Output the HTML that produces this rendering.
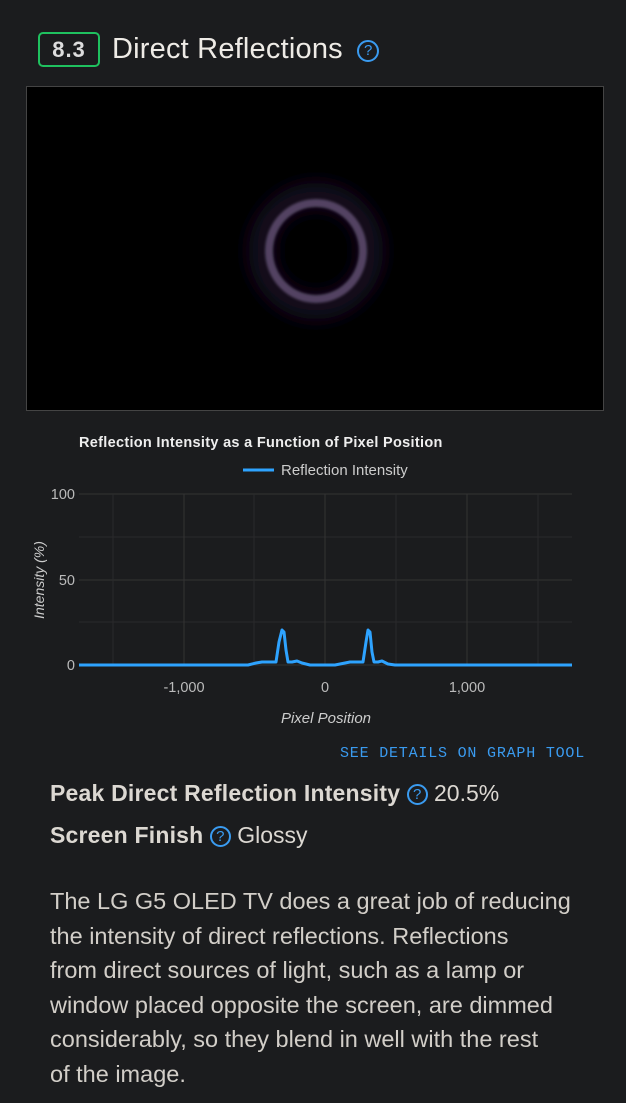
<!DOCTYPE html>
<html><head><meta charset="utf-8"><style>
*{margin:0;padding:0;box-sizing:border-box}
body{width:626px;height:1103px;background:#1b1c1e;font-family:"Liberation Sans",sans-serif;color:#e0ddd8;position:relative;overflow:hidden}
.abs{position:absolute}
.score{left:38px;top:32px;width:62px;height:35px;border:2px solid #1fc15f;border-radius:5px;font-weight:bold;font-size:22px;text-align:center;line-height:31px;color:#ddd;letter-spacing:1px}
.title{left:112px;top:31px;font-size:29px;color:#eeebe6;line-height:36px;letter-spacing:0.2px;white-space:nowrap}
.q{display:inline-block;border:2px solid #3a9bf0;border-radius:50%;color:#3a9bf0;text-align:center;font-weight:normal;letter-spacing:0}
.img{left:26px;top:86px;width:578px;height:325px;background:#000;border:1px solid #444}
.lbl{font-size:23px;line-height:30px;color:#dcd8d2;white-space:nowrap}
.para{left:50px;top:884px;width:580px;font-size:23.5px;line-height:34.5px;color:#d2cec8;white-space:nowrap}
</style></head><body>
<div class="abs score">8.3</div>
<div class="abs title">Direct Reflections <span class="q" style="width:22px;height:22px;font-size:15px;line-height:18px;vertical-align:3px;margin-left:6px">?</span></div>
<div class="abs img">
<svg width="576" height="323"><defs><filter id="b"><feGaussianBlur stdDeviation="1.2"/></filter><filter id="g" x="-100%" y="-100%" width="300%" height="300%"><feGaussianBlur stdDeviation="10"/></filter></defs>
<ellipse cx="289" cy="164" rx="55" ry="56" fill="none" stroke="#150f22" stroke-width="24" filter="url(#g)"/>
<ellipse cx="289" cy="164" rx="47" ry="48" fill="none" stroke="#524262" stroke-width="8" filter="url(#b)"/>
</svg></div>
<svg class="abs" style="left:0;top:420px" width="626" height="320">
<text x="79" y="27" font-size="14.5" font-weight="bold" fill="#eee" letter-spacing="0.3">Reflection Intensity as a Function of Pixel Position</text>
<line x1="243" y1="50" x2="274" y2="50" stroke="#2ea3ff" stroke-width="3"/>
<text x="281" y="55" font-size="15" fill="#ccc" letter-spacing="0">Reflection Intensity</text>
<g stroke="#333" stroke-width="1">
<line x1="79" y1="74" x2="572" y2="74"/><line x1="79" y1="160" x2="572" y2="160"/><line x1="79" y1="245" x2="572" y2="245"/>
<line x1="79" y1="117" x2="572" y2="117" stroke="#2a2a2c"/><line x1="79" y1="202" x2="572" y2="202" stroke="#2a2a2c"/>
<line x1="184" y1="74" x2="184" y2="245"/><line x1="325" y1="74" x2="325" y2="245"/><line x1="467" y1="74" x2="467" y2="245"/>
<line x1="113" y1="74" x2="113" y2="245" stroke="#2a2a2c"/><line x1="254" y1="74" x2="254" y2="245" stroke="#2a2a2c"/><line x1="396" y1="74" x2="396" y2="245" stroke="#2a2a2c"/><line x1="538" y1="74" x2="538" y2="245" stroke="#2a2a2c"/>
</g>
<g font-size="14.5" fill="#bbb" text-anchor="end"><text x="75" y="79">100</text><text x="75" y="165">50</text><text x="75" y="250">0</text></g>
<g font-size="14.5" fill="#bbb" text-anchor="middle"><text x="184" y="272">-1,000</text><text x="325" y="272">0</text><text x="467" y="272">1,000</text></g>
<text x="326" y="303" font-size="15" font-style="italic" fill="#ccc" text-anchor="middle">Pixel Position</text>
<text transform="translate(44,160) rotate(-90)" font-size="14" font-style="italic" fill="#ccc" text-anchor="middle">Intensity (%)</text>
<polyline fill="none" stroke="#2ea3ff" stroke-width="3" stroke-linejoin="round" points="79,245 248,245 256,243 262,242 276,242 279,222 282,210 284,212 286,230 288,242 292,242 297,241 302,243 310,245 335,245 345,243 350,242 363,242 366,222 368,210 370,212 372,232 374,242 378,242 382,241 388,244 395,245 572,245"/>
</svg>
<div class="abs" style="left:340px;top:745px;font-family:'Liberation Mono',monospace;font-size:15px;color:#3a9bf0;letter-spacing:0.8px;white-space:nowrap">SEE DETAILS ON GRAPH TOOL</div>
<div class="abs lbl" style="left:50px;top:778px"><b style="letter-spacing:0.2px">Peak Direct Reflection Intensity</b> <span class="q" style="width:21px;height:21px;font-size:15px;line-height:17px;vertical-align:2px">?</span> 20.5%</div>
<div class="abs lbl" style="left:50px;top:820px"><b style="letter-spacing:0.2px">Screen Finish</b> <span class="q" style="width:21px;height:21px;font-size:15px;line-height:17px;vertical-align:2px">?</span> Glossy</div>
<div class="abs para">The LG G5 OLED TV does a great job of reducing<br>the intensity of direct reflections. Reflections<br>from direct sources of light, such as a lamp or<br>window placed opposite the screen, are dimmed<br>considerably, so they blend in well with the rest<br>of the image.</div>
</body></html>
